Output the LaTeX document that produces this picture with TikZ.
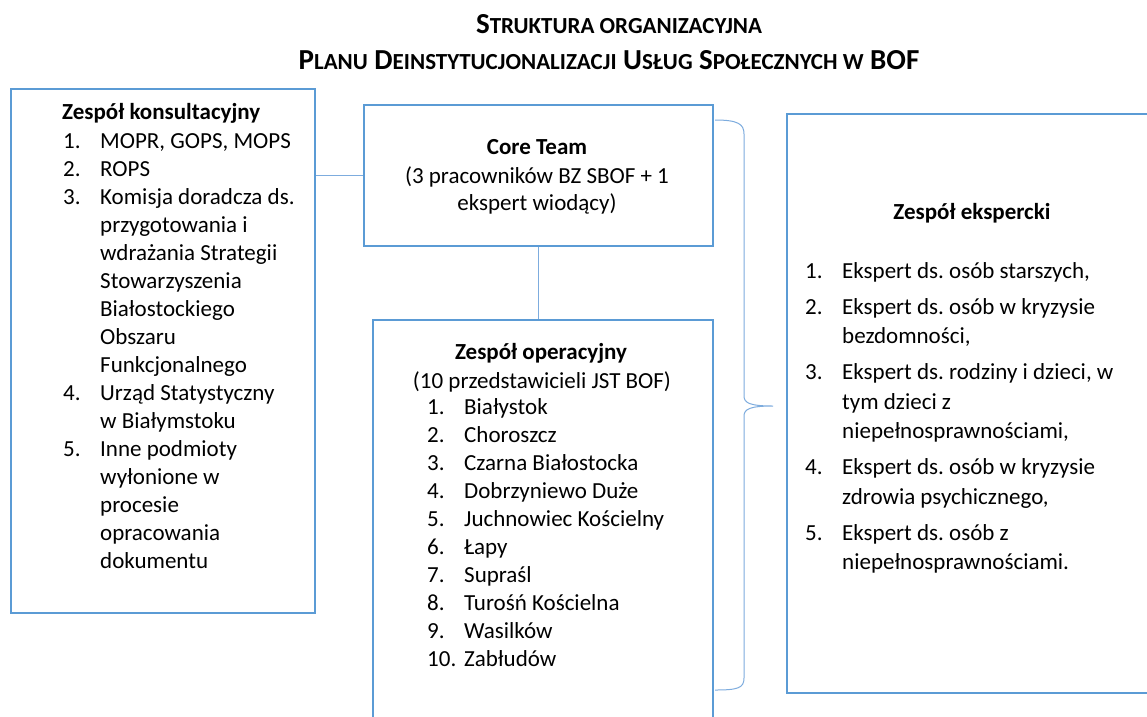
\documentclass[tikz,border=0pt]{standalone}
\usepackage{fontspec}
\setmainfont{Carlito}
\usetikzlibrary{positioning}
\usetikzlibrary{calc}
\definecolor{boxblue}{RGB}{91,155,213}
\definecolor{linkblue}{RGB}{125,172,222}
\newcommand\scpart[1]{{\fontsize{23}{24}\selectfont #1}}
\frenchspacing
\tikzset{
    team box/.style={
        draw=boxblue,
        line width=2pt,
        inner sep=0,
        anchor=north west,
    },
    team link/.style={
        draw=linkblue,
        line width=1pt,
    },
    body text/.style={
        inner sep=0,
        font=\fontsize{23}{28}\selectfont,
    },
    head text/.style={
        body text,
        font=\fontsize{23}{28}\selectfont\bfseries,
    },
    title text/.style={
        inner sep=0,
        anchor=base,
        font=\fontsize{29}{34}\selectfont\bfseries,
    },
}

\begin{document}
\begin{tikzpicture}[x=1pt,y=-1pt]

    \useasboundingbox (0,0) rectangle (1147,716);
    \clip (0,0) rectangle (1147,716);
    \fill[white] (0,0) rectangle (1147,716);

    % title
    \node[title text] (title1) at (619,33) {S\scpart{TRUKTURA ORGANIZACYJNA}};
    \node[title text] (title2) at (609,69) {P\scpart{LANU} D\scpart{EINSTYTUCJONALIZACJI} U\scpart{SŁUG} S\scpart{POŁECZNYCH W} BOF};

    % boxes
    \node[team box, minimum width=304pt, minimum height=524pt] (konsult) at (10,88) {};
    \node[team box, minimum width=349pt, minimum height=141pt] (core) at (363,104) {};
    \node[team box, minimum width=340pt, minimum height=430pt] (oper) at (372,319) {};
    \node[team box, minimum width=420pt, minimum height=579pt] (ekspert) at (786,113) {};

    \draw[team link] (konsult.east |- core.west) -- (core.west);
    \draw[team link] (core.south) -- (core.south |- oper.north);

    % brace
    \coordinate (brace tip) at (773,406);
    \draw[team link] (715,120) .. controls (738,120) and (744,124) .. (744,134)
        -- (744,396) .. controls (744,403) and (750,406) .. (brace tip)
        .. controls (750,406) and (744,409) .. (744,416)
        -- (744,678) .. controls (744,688) and (738,690) .. (715,690);

    % Zespol konsultacyjny
    \node[head text, anchor=base west] (konsult head) at (62,119) {Zespół konsultacyjny};
    \foreach \num/\txt [count=\i from 0] in {{1.}/{MOPR, GOPS, MOPS}, {2.}/{ROPS},
        {3.}/{Komisja doradcza ds.}, {}/{przygotowania i}, {}/{wdrażania Strategii},
        {}/{Stowarzyszenia}, {}/{Białostockiego}, {}/{Obszaru}, {}/{Funkcjonalnego},
        {4.}/{Urząd Statystyczny}, {}/{w Białymstoku}, {5.}/{Inne podmioty},
        {}/{wyłonione w}, {}/{procesie}, {}/{opracowania}, {}/{dokumentu}}
    {
        \node[body text, anchor=base west] (kn\i) at (63,{148+28*\i}) {\num};
        \node[body text, anchor=base west] (kt\i) at (100,{148+28*\i}) {\txt};
    }

    % Core Team
    \node[head text, anchor=base] (core head) at (537,154) {Core Team};
    \node[body text, anchor=base] (core line1) at (537,183) {(3 pracowników BZ SBOF + 1};
    \node[body text, anchor=base] (core line2) at (537,210) {ekspert wiodący)};

    % Zespol operacyjny
    \node[head text, anchor=base] (oper head) at (541,359) {Zespół operacyjny};
    \node[body text, anchor=base] (oper sub) at (542,388) {(10 przedstawicieli JST BOF)};
    \foreach \txt [count=\i] in {Białystok, Choroszcz, Czarna Białostocka, Dobrzyniewo Duże,
        Juchnowiec Kościelny, Łapy, Supraśl, Turośń Kościelna, Wasilków, Zabłudów}
    {
        \node[body text, anchor=base west] (on\i) at (427,{386+28*\i}) {\i.};
        \node[body text, anchor=base west] (ot\i) at (464,{386+28*\i}) {\txt};
    }

    % Zespol ekspercki
    \node[head text, anchor=base] (ekspert head) at (972,219) {Zespół ekspercki};
    \foreach \num/\txt/\yy [count=\i] in {{1.}/{Ekspert ds. osób starszych,}/278,
        {2.}/{Ekspert ds. osób w kryzysie}/314, {}/{bezdomności,}/343.5,
        {3.}/{Ekspert ds. rodziny i dzieci, w}/379.5, {}/{tym dzieci z}/409,
        {}/{niepełnosprawnościami,}/438.5,
        {4.}/{Ekspert ds. osób w kryzysie}/474.5, {}/{zdrowia psychicznego,}/504,
        {5.}/{Ekspert ds. osób z}/540, {}/{niepełnosprawnościami.}/569.5}
    {
        \node[body text, anchor=base west] (en\i) at (805,\yy) {\num};
        \node[body text, anchor=base west] (et\i) at (842,\yy) {\txt};
    }

\end{tikzpicture}
\end{document}
